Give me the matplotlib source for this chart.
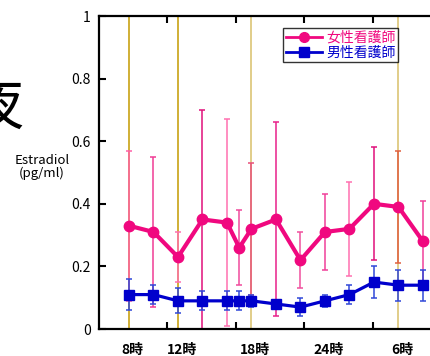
import numpy as np
import matplotlib
matplotlib.use("Agg")
import matplotlib.pyplot as plt
from matplotlib.lines import Line2D

plt.rcParams['font.family'] = ['Noto Sans CJK JP', 'DejaVu Sans']

# clock hours (26 = 2時, 30 = 6時 of next day)
hours = [8, 10, 12, 14, 16, 17, 18, 20, 22, 24, 26, 28, 30, 32]
female_mean = [0.33, 0.31, 0.23, 0.35, 0.34, 0.26, 0.32, 0.35, 0.22, 0.31, 0.32, 0.40, 0.39, 0.28]
female_sd = [0.24, 0.24, 0.08, 0.35, 0.33, 0.12, 0.21, 0.31, 0.09, 0.12, 0.15, 0.18, 0.18, 0.13]
male_mean = [0.11, 0.11, 0.09, 0.09, 0.09, 0.09, 0.09, 0.08, 0.07, 0.09, 0.11, 0.15, 0.14, 0.14]
male_sd = [0.05, 0.03, 0.04, 0.03, 0.03, 0.03, 0.02, 0.01, 0.03, 0.02, 0.03, 0.05, 0.05, 0.05]

marker_hours = [8, 12, 18, 30]
marker_colors = ['#C49A00', '#C49A00', '#D8C06A', '#D8C06A']

label_hours = [8, 12, 18, 24, 30]
label_texts = ['8時', '12時', '18時', '24時', '6時']

pink = '#F0087F'
pink_err = ['#FF60A8', '#F03C94', '#FF70B0', '#E0107A', '#FF70B0', '#F04A9C', '#E8507A',
            '#E8208A', '#F0509E', '#F0409A', '#FF70B0', '#E0107A', '#E06040', '#F0409A']
blue = '#0000CC'
blue_err = '#3048D8'

fig = plt.figure(figsize=(4.30, 3.56), dpi=100)
ax = fig.add_axes([0.2302, 0.0758, 0.8395, 0.8792])

px_per_hour = 12.25
x0 = 8 - 30 / px_per_hour
ax.set_xlim(x0, x0 + 361 / px_per_hour)
ax.set_ylim(0, 1)

for h, c in zip(marker_hours, marker_colors):
    ax.axvline(h, color=c, lw=1.1, zorder=1)

for h, m, s, c in zip(hours, female_mean, female_sd, pink_err):
    ax.errorbar(h, m, yerr=s, fmt='none', ecolor=c, elinewidth=1.1, capsize=2.5,
                capthick=1.1, zorder=2)
ax.errorbar(hours, male_mean, yerr=male_sd, fmt='none', ecolor=blue_err, elinewidth=1.1,
            capsize=2.5, capthick=1.1, zorder=2)

ax.plot(hours, female_mean, '-o', color=pink, lw=3.0, ms=7.5, zorder=4)
ax.plot(hours, male_mean, '-s', color=blue, lw=2.3, ms=7.8, zorder=5)

tick_step = 68.5 / px_per_hour
ax.set_xticks([x0 + tick_step * k for k in range(1, 6)])
ax.set_xticklabels([])
ax.set_yticks([0, 0.2, 0.4, 0.6, 0.8, 1.0])
ax.set_yticklabels(['0', '0.2', '0.4', '0.6', '0.8', '1'])
ax.tick_params(axis='both', direction='in', length=5, width=1.5, labelsize=10,
               top=True, right=False, pad=6)
for side in ['left', 'bottom', 'top']:
    ax.spines[side].set_linewidth(1.6)
ax.spines['right'].set_visible(False)

for h, t in zip(label_hours, label_texts):
    ax.text(h + 0.3, -0.068, t, transform=ax.get_xaxis_transform(), ha='center',
            va='center', fontsize=10, fontweight='bold')

fig.text(0.098, 0.531, 'Estradiol\n(pg/ml)', ha='center', va='center', fontsize=9.5,
         linespacing=1.0)
fig.text(-0.012, 0.698, '夜', ha='center', va='center', fontsize=41)

handles = [Line2D([], [], color=pink, marker='o', lw=2, ms=7),
           Line2D([], [], color=blue, marker='s', lw=2, ms=7)]
leg = ax.legend(handles, ['女性看護師', '男性看護師'], loc='upper left',
                bbox_to_anchor=(283 / 430, 1 - 28 / 356), bbox_transform=fig.transFigure,
                fontsize=10, frameon=True, fancybox=False, edgecolor='black',
                handlelength=2.6, handletextpad=0.3, borderpad=0.2, labelspacing=0.05,
                borderaxespad=0)
leg.get_frame().set_linewidth(1.0)
leg.get_texts()[0].set_color(pink)
leg.get_texts()[1].set_color(blue)
leg.set_zorder(10)

fig.savefig('out.png', dpi=100)
